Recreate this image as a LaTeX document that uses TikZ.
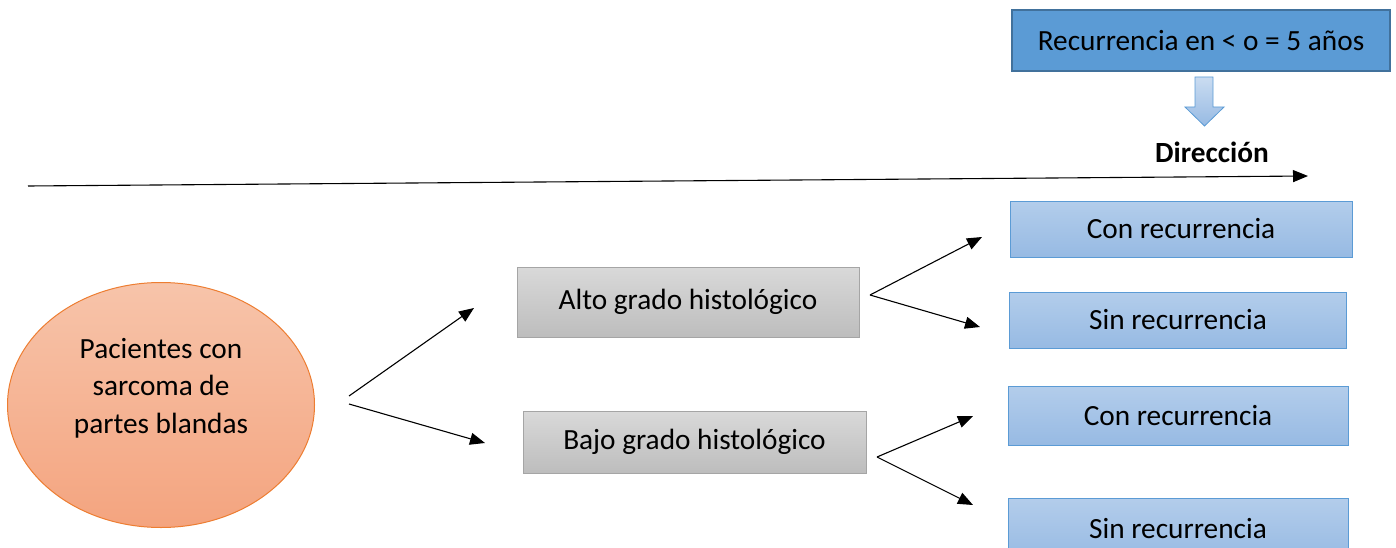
\documentclass[tikz,border=0pt]{standalone}
\usepackage{fontspec}
\setmainfont{Carlito}
\usetikzlibrary{arrows.meta,shapes.geometric}
\definecolor{topfill}{HTML}{5B9BD5}
\definecolor{topdraw}{HTML}{41719C}
\definecolor{ltop}{HTML}{B3CDEB}
\definecolor{lbot}{HTML}{97BAE3}
\definecolor{ldraw}{HTML}{5B9BD5}
\definecolor{gtop}{HTML}{D9D9D9}
\definecolor{gbot}{HTML}{BDBDBD}
\definecolor{gdraw}{HTML}{A5A5A5}
\definecolor{etop}{HTML}{F7C4AA}
\definecolor{ebot}{HTML}{F4A47F}
\definecolor{edraw}{HTML}{ED7D31}
\begin{document}
\begin{tikzpicture}[x=1pt,y=-1pt,
  txt/.style={font=\fontsize{29.3pt}{37.5pt}\selectfont, text=black},
  topbox/.style={txt, rectangle, draw=topdraw, line width=1.5pt, fill=topfill, minimum width=378pt, minimum height=61pt, inner sep=0pt},
  graybox/.style={txt, rectangle, draw=gdraw, line width=0.8pt, top color=gtop, bottom color=gbot, inner sep=0pt},
  bluebox/.style={txt, rectangle, draw=ldraw, line width=0.8pt, top color=ltop, bottom color=lbot, inner sep=0pt},
  conn/.style={line width=1.1pt, -{Triangle[length=15pt,width=12pt]}},
]
\useasboundingbox (0,0) rectangle (1396,548);
\clip (0,0) rectangle (1396,548);

% top box and block arrow
\node[topbox] (top) at (1201,40.5) {Recurrencia en < o = 5 años};
\shade[top color=ltop!70, bottom color=lbot, draw=ldraw, line width=0.8pt]
  (1195,77) -- (1213,77) -- (1213,107) -- (1224,107) -- (1204.5,126) -- (1185,107) -- (1195,107) -- cycle;
\node[txt, font=\fontsize{29.3pt}{37.5pt}\selectfont\bfseries] (dir) at (1212,152) {Dirección};

% direction arrow
\coordinate (ds) at (28,186);
\coordinate (de) at (1308,176);
\draw[conn] (ds) -- (de);

% ellipse
\node[ellipse, draw=edraw, line width=1pt, top color=etop, bottom color=ebot, minimum width=307pt, minimum height=245pt, inner sep=0pt] (pac) at (161,405) {};
\node[txt, align=center] (pactext) at (161,388) {Pacientes con\\sarcoma de\\partes blandas};

% grade boxes
\node[graybox, minimum width=342pt, minimum height=70pt] (alto) at (688,302) {\raisebox{3pt}{Alto grado histológico}};
\node[graybox, minimum width=343pt, minimum height=62pt] (bajo) at (694.5,442) {Bajo grado histológico};

% outcome boxes
\node[bluebox, minimum width=342pt, minimum height=56pt] (c1) at (1181,229) {\raisebox{-2pt}{Con recurrencia}};
\node[bluebox, minimum width=337pt, minimum height=56pt] (s1) at (1178,320) {\raisebox{-2pt}{Sin recurrencia}};
\node[bluebox, minimum width=340pt, minimum height=59pt] (c2) at (1178,415.5) {Con recurrencia};
\node[bluebox, minimum width=340pt, minimum height=62pt] (s2) at (1178,529) {Sin recurrencia};

% connectors
\coordinate (p1) at (349,396);
\coordinate (p2) at (349,404);
\coordinate (a1) at (474,308);
\coordinate (b1) at (485,443);
\draw[conn] (p1) -- (a1);
\draw[conn] (p2) -- (b1);

\coordinate (av) at (870,295);
\coordinate (ac) at (982,237);
\coordinate (as) at (980,327);
\draw[conn] (av) -- (ac);
\draw[conn] (av) -- (as);

\coordinate (bv) at (877,457);
\coordinate (bc) at (973,416);
\coordinate (bs) at (973,505);
\draw[conn] (bv) -- (bc);
\draw[conn] (bv) -- (bs);
\end{tikzpicture}
\end{document}
